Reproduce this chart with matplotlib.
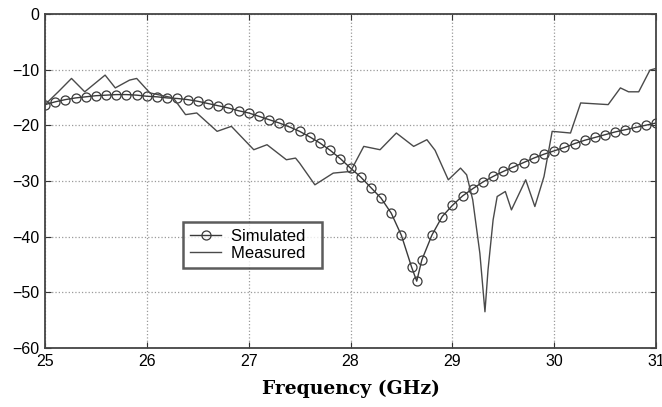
import numpy as np
import matplotlib
matplotlib.use('Agg')
import matplotlib.pyplot as plt

# Simulated S11 (dB)
sim_freq = [25.0, 25.1, 25.2, 25.3, 25.4, 25.5, 25.6, 25.7, 25.8, 25.9,
            26.0, 26.1, 26.2, 26.3, 26.4, 26.5, 26.6, 26.7, 26.8, 26.9,
            27.0, 27.1, 27.2, 27.3, 27.4, 27.5, 27.6, 27.7, 27.8, 27.9,
            28.0, 28.1, 28.2, 28.3, 28.4, 28.5, 28.6, 28.65, 28.7, 28.8,
            28.9, 29.0, 29.1, 29.2, 29.3, 29.4, 29.5, 29.6, 29.7, 29.8,
            29.9, 30.0, 30.1, 30.2, 30.3, 30.4, 30.5, 30.6, 30.7, 30.8,
            30.9, 31.0]
sim_db = [-16.3, -15.8, -15.4, -15.1, -14.9, -14.7, -14.6, -14.5, -14.5, -14.6,
          -14.8, -14.9, -15.1, -15.2, -15.4, -15.7, -16.1, -16.5, -16.9, -17.4,
          -17.8, -18.4, -19.0, -19.6, -20.3, -21.1, -22.1, -23.2, -24.5, -26.0,
          -27.7, -29.3, -31.2, -33.1, -35.8, -39.8, -45.5, -48.0, -44.2, -39.7,
          -36.4, -34.4, -32.7, -31.4, -30.2, -29.2, -28.3, -27.5, -26.7, -25.9,
          -25.2, -24.6, -24.0, -23.3, -22.7, -22.2, -21.7, -21.2, -20.8, -20.4,
          -20.0, -19.6]

# Measured S11 (dB)
meas_freq = [25.0, 25.13, 25.26, 25.39, 25.59, 25.69, 25.83, 25.9, 26.03, 26.26,
             26.38, 26.49, 26.69, 26.83, 27.05, 27.18, 27.37, 27.46, 27.5, 27.65,
             27.83, 28.0, 28.13, 28.29, 28.45, 28.62, 28.75, 28.83, 28.96, 29.08,
             29.14, 29.2, 29.27, 29.32, 29.35, 29.4, 29.44, 29.52, 29.58, 29.72,
             29.81, 29.9, 29.98, 30.16, 30.26, 30.53, 30.65, 30.73, 30.83, 30.94,
             31.0]
meas_db = [-16.3, -14.0, -11.6, -14.0, -11.0, -13.3, -11.9, -11.6, -14.2, -15.1,
           -18.1, -17.8, -21.1, -20.2, -24.4, -23.5, -26.2, -25.9, -26.8, -30.7,
           -28.6, -28.3, -23.8, -24.4, -21.4, -23.8, -22.6, -24.5, -29.8, -27.7,
           -28.9, -33.4, -43.0, -53.5, -46.0, -37.0, -32.8, -31.9, -35.2, -29.8,
           -34.6, -29.2, -21.1, -21.4, -16.0, -16.3, -13.3, -14.0, -14.0, -10.1,
           -9.8]

x_ticks = [25, 26, 27, 28, 29, 30, 31]
y_ticks = [0, -10, -20, -30, -40, -50, -60]

plt.rcParams['font.family'] = ['Liberation Sans', 'DejaVu Sans']

fig = plt.figure(figsize=(6.62, 4.07), dpi=100)
ax = fig.add_axes([0.068, 0.145, 0.923, 0.821])

line_col = '#3a3a3a'
ax.plot(sim_freq, sim_db, color=line_col, lw=1.0, marker='o', ms=6.5,
        mfc='none', mec=line_col, mew=0.9, label='Simulated')
ax.plot(meas_freq, meas_db, color='#4a4a4a', lw=1.0, label='Measured')

ax.set_xlim(25, 31)
ax.set_ylim(-60, 0)
ax.set_xticks(x_ticks)
ax.set_yticks(y_ticks)
ax.grid(True, linestyle=':', color='#9a9a9a', lw=0.9)
ax.tick_params(direction='in', top=True, right=True, labelsize=11.5, length=4,
               color='#333333', pad=4)
for s in ax.spines.values():
    s.set_color('#444444')
    s.set_linewidth(1.3)

ax.set_xlabel('Frequency (GHz)', family='DejaVu Serif', fontweight='bold',
              fontsize=13.5, labelpad=8)

leg = ax.legend(loc='upper left', bbox_to_anchor=(0.226, 0.377),
                fontsize=12, frameon=True, fancybox=False, handlelength=1.9,
                borderpad=0.4, labelspacing=0.15, handletextpad=0.6,
                borderaxespad=0)
leg.get_frame().set_edgecolor('#333333')
leg.get_frame().set_linewidth(1.8)
# pad out the right side of the legend box a little, as in the original
leg._legend_box.sep = 6
for t in leg.get_texts():
    t.set_text(t.get_text() + '  ')

fig.savefig('out.png', dpi=100)
